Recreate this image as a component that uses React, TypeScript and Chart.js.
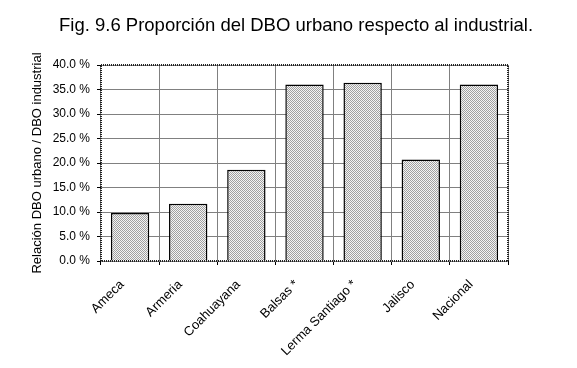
import React, { useEffect, useRef } from "react";
import { Chart, registerables } from "chart.js";

Chart.register(...registerables);

const chartTitle = "Fig. 9.6 Proporción del DBO urbano respecto al industrial.";
const yAxisTitle = "Relación DBO urbano / DBO industrial";
const categories = ["Ameca", "Armeria", "Coahuayana", "Balsas *", "Lerma Santiago *", "Jalisco", "Nacional"];
const ratioValues = [9.8, 11.7, 18.6, 36.0, 36.4, 20.7, 36.0];
const yMin = 0;
const yMax = 40;
const yStep = 5;

const FONT = '"Liberation Sans", Arial, sans-serif';

function makePattern(): CanvasPattern | string {
  const c = document.createElement("canvas");
  c.width = 4;
  c.height = 4;
  const g = c.getContext("2d");
  if (!g) return "#d0d0d0";
  g.fillStyle = "#f4f4f4";
  g.fillRect(0, 0, 4, 4);
  g.fillStyle = "#a0a0a0";
  for (let y = 0; y < 4; y++) {
    for (let x = 0; x < 4; x++) {
      if ((x + y) % 2 === 0) g.fillRect(x, y, 1, 1);
    }
  }
  return g.createPattern(c, "repeat") || "#d0d0d0";
}

const frameAndTitle = {
  id: "frameAndTitle",
  afterDraw(chart: any) {
    const { ctx, chartArea } = chart;
    ctx.save();
    ctx.strokeStyle = "#222";
    ctx.lineWidth = 2;
    ctx.setLineDash([1, 1]);
    ctx.strokeRect(chartArea.left, chartArea.top, chartArea.right - chartArea.left, chartArea.bottom - chartArea.top);
    ctx.setLineDash([]);
    ctx.fillStyle = "#000";
    ctx.font = "18.5px " + FONT;
    ctx.textAlign = "center";
    ctx.textBaseline = "alphabetic";
    ctx.fillText(chartTitle, 296, 31);
    ctx.restore();
  },
};

export default function App() {
  const ref = useRef<HTMLCanvasElement>(null);
  useEffect(() => {
    if (!ref.current) return;
    const pattern = makePattern();
    const chart = new Chart(ref.current, {
      type: "bar",
      data: {
        labels: categories,
        datasets: [
          {
            data: ratioValues,
            backgroundColor: pattern as any,
            borderColor: "#000",
            borderWidth: 1.5,
            barPercentage: 0.66,
            categoryPercentage: 1,
          },
        ],
      },
      options: {
        animation: false,
        responsive: true,
        maintainAspectRatio: false,
        layout: { padding: { top: 65, left: 26, right: 69, bottom: 0 } },
        plugins: { legend: { display: false }, title: { display: false }, tooltip: { enabled: false } },
        scales: {
          x: {
            grid: { color: "#808080", offset: true, tickLength: 4, tickColor: "#000", lineWidth: 1 },
            border: { display: false },
            ticks: {
              color: "#000",
              font: { family: FONT, size: 13 },
              maxRotation: 45,
              minRotation: 45,
              padding: 12,
              labelOffset: -8,
            },
            afterFit: (s: any) => {
              s.height = 107;
            },
          },
          y: {
            min: yMin,
            max: yMax,
            grid: { color: "#808080", tickLength: 4, tickColor: "#000" },
            border: { display: false },
            ticks: {
              stepSize: yStep,
              color: "#000",
              font: { family: FONT, size: 12 },
              padding: 7,
              callback: (v: any) => Number(v).toFixed(1) + " %",
            },
            title: { display: true, text: yAxisTitle, color: "#000", font: { family: FONT, size: 13 } },
            afterFit: (s: any) => {
              s.width = 75;
            },
          },
        },
      },
      plugins: [frameAndTitle],
    });
    return () => chart.destroy();
  }, []);
  return (
    <div style={{ position: "absolute", left: 0, top: 0, width: 577, height: 368, background: "#fff" }}>
      <canvas ref={ref} />
    </div>
  );
}
